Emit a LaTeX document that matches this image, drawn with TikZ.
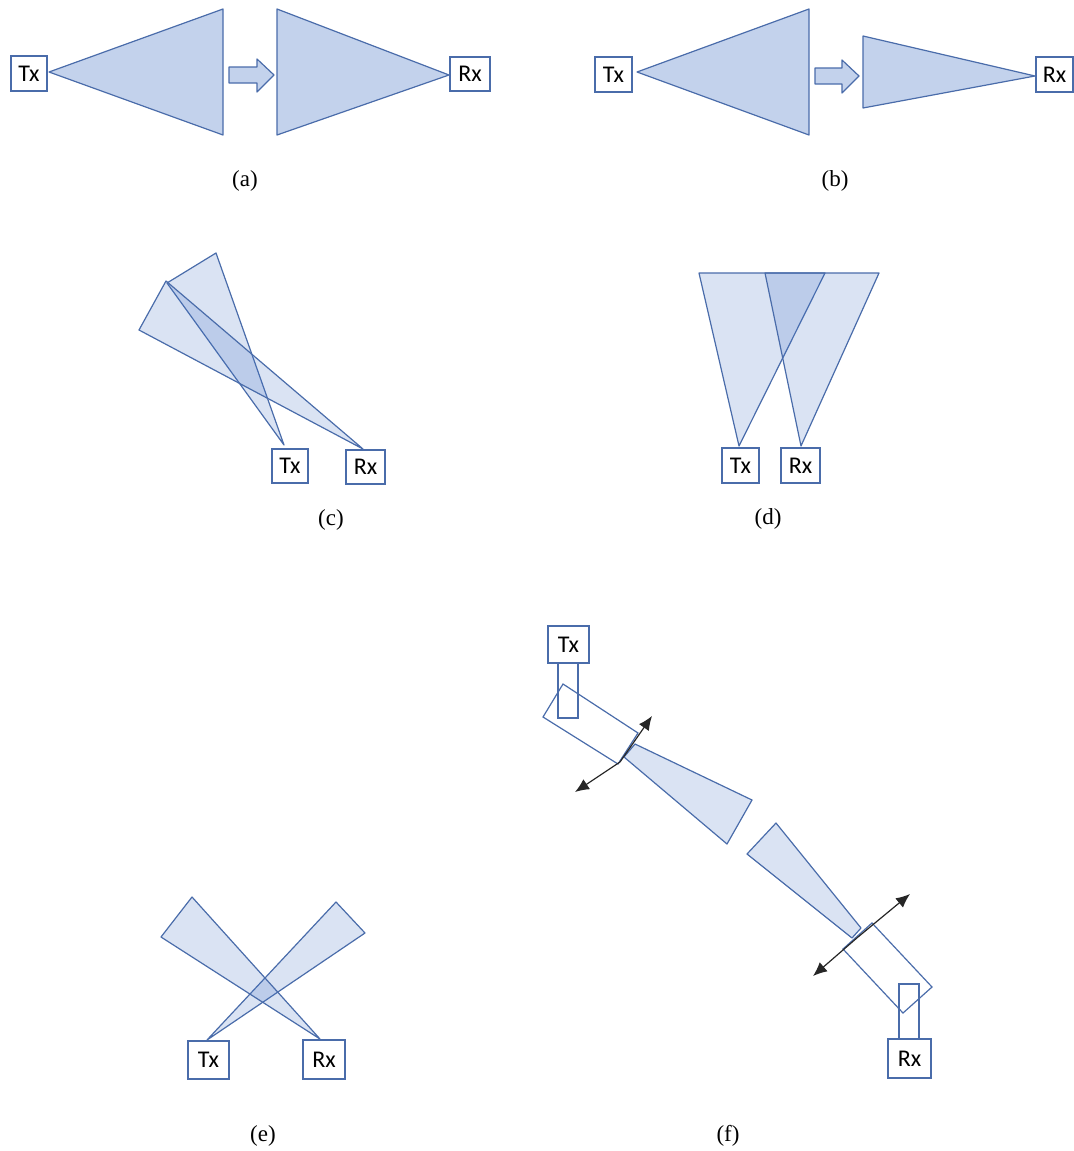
\documentclass[tikz,border=0pt]{standalone}
\usepackage{fontspec}
\setmainfont{Liberation Serif}
\newfontfamily\calib{Carlito}
\usetikzlibrary{arrows.meta}
\definecolor{edgeblue}{RGB}{74,108,170}
\definecolor{solidfill}{RGB}{195,210,236}
\definecolor{beamblue}{RGB}{68,114,196}
\tikzset{
  dev/.style={draw=edgeblue, line width=0.6pt, fill=white, inner sep=0pt,
    font=\calib\fontsize{12}{14}\selectfont, text=black},
  solidbeam/.style={draw=edgeblue, line width=0.6pt, fill=solidfill, line join=round},
  lightbeam/.style={draw=edgeblue, line width=0.6pt, fill=beamblue, fill opacity=0.2, line join=round},
  plainbox/.style={draw=edgeblue, line width=0.6pt},
  steer/.style={draw=black!85, line width=0.6pt, -{Latex[length=7pt,width=6pt]}},
  caption/.style={font=\fontsize{11.5}{13}\selectfont}
}
\begin{document}
\begin{tikzpicture}[x=0.5pt,y=-0.5pt]
\useasboundingbox (0,0) rectangle (1074,1151);

% ---------------- (a) ----------------
\draw[solidbeam] (49,72) -- (223,9) -- (223,135) -- cycle;
\draw[solidbeam] (229,67) -- (257,67) -- (257,59) -- (274,75) -- (257,92) -- (257,83) -- (229,83) -- cycle;
\draw[solidbeam] (277,9) -- (449,75) -- (277,135) -- cycle;
\node[dev, minimum width=18pt, minimum height=17.5pt] (aTx) at (29,73.5) {Tx};
\node[dev, minimum width=20pt, minimum height=17pt] (aRx) at (470,74) {Rx};
\node[caption] (acap) at (245,181) {(a)};

% ---------------- (b) ----------------
\draw[solidbeam] (637,72) -- (809,9) -- (809,135) -- cycle;
\draw[solidbeam] (815,68) -- (842,68) -- (842,60) -- (859,76) -- (842,93) -- (842,84) -- (815,84) -- cycle;
\draw[solidbeam] (863,36) -- (1035,76) -- (863,108) -- cycle;
\node[dev, minimum width=18.5pt, minimum height=17.5pt] (bTx) at (613.5,74.5) {Tx};
\node[dev, minimum width=18.5pt, minimum height=17.5pt] (bRx) at (1054.5,74.5) {Rx};
\node[caption] (bcap) at (835,181) {(b)};

% ---------------- (c) ----------------
\draw[lightbeam] (284,445) -- (167,283) -- (216,253) -- cycle;
\draw[lightbeam] (363,449) -- (139,330) -- (166,281) -- cycle;
\node[dev, minimum width=18pt, minimum height=17pt] (cTx) at (290,466) {Tx};
\node[dev, minimum width=19.5pt, minimum height=17pt] (cRx) at (365.5,467) {Rx};
\node[caption] (ccap) at (331,520) {(c)};

% ---------------- (d) ----------------
\draw[lightbeam] (739,446) -- (699,273) -- (825,273) -- cycle;
\draw[lightbeam] (801,446) -- (765,273) -- (879,273) -- cycle;
\node[dev, minimum width=18.5pt, minimum height=17.5pt] (dTx) at (740.5,465.5) {Tx};
\node[dev, minimum width=19.5pt, minimum height=17.5pt] (dRx) at (800.5,465.5) {Rx};
\node[caption] (dcap) at (768,519) {(d)};

% ---------------- (e) ----------------
\draw[lightbeam] (207,1040) -- (336,902) -- (365,933) -- cycle;
\draw[lightbeam] (320,1039) -- (192,897) -- (161,937) -- cycle;
\node[dev, minimum width=20.5pt, minimum height=19pt] (eTx) at (208.5,1060) {Tx};
\node[dev, minimum width=21pt, minimum height=19.5pt] (eRx) at (324,1059.5) {Rx};
\node[caption] (ecap) at (263,1136) {(e)};

% ---------------- (f) ----------------
% transmitter side
\draw[plainbox] (558,663) rectangle (578,718);
\draw[plainbox] (563,684) -- (543,717) -- (618,764) -- (638,733) -- cycle;
\draw[lightbeam] (624,757) -- (635,744) -- (752,800) -- (727,844) -- cycle;
\coordinate (ftc) at (620,762);
\coordinate (ftl) at (575,792);
\coordinate (ftu) at (652,716);
\draw[steer] (ftc) -- (ftl);
\draw[steer] (ftc) -- (ftu);
\node[dev, minimum width=20.5pt, minimum height=18.5pt] (fTx) at (568.5,644.5) {Tx};
% receiver side
\draw[lightbeam] (776,823) -- (861,928) -- (852,938) -- (747,854) -- cycle;
\draw[plainbox] (872,923) -- (932,987) -- (903,1013) -- (843,949) -- cycle;
\draw[plainbox] (899,984) rectangle (919,1039);
\coordinate (frc) at (858,937);
\coordinate (frl) at (813,976);
\coordinate (fru) at (910,894);
\draw[steer] (frc) -- (frl);
\draw[steer] (frc) -- (fru);
\node[dev, minimum width=21.5pt, minimum height=19.5pt] (fRx) at (909.5,1058.5) {Rx};
\node[caption] (fcap) at (728,1136) {(f)};
\end{tikzpicture}
\end{document}
